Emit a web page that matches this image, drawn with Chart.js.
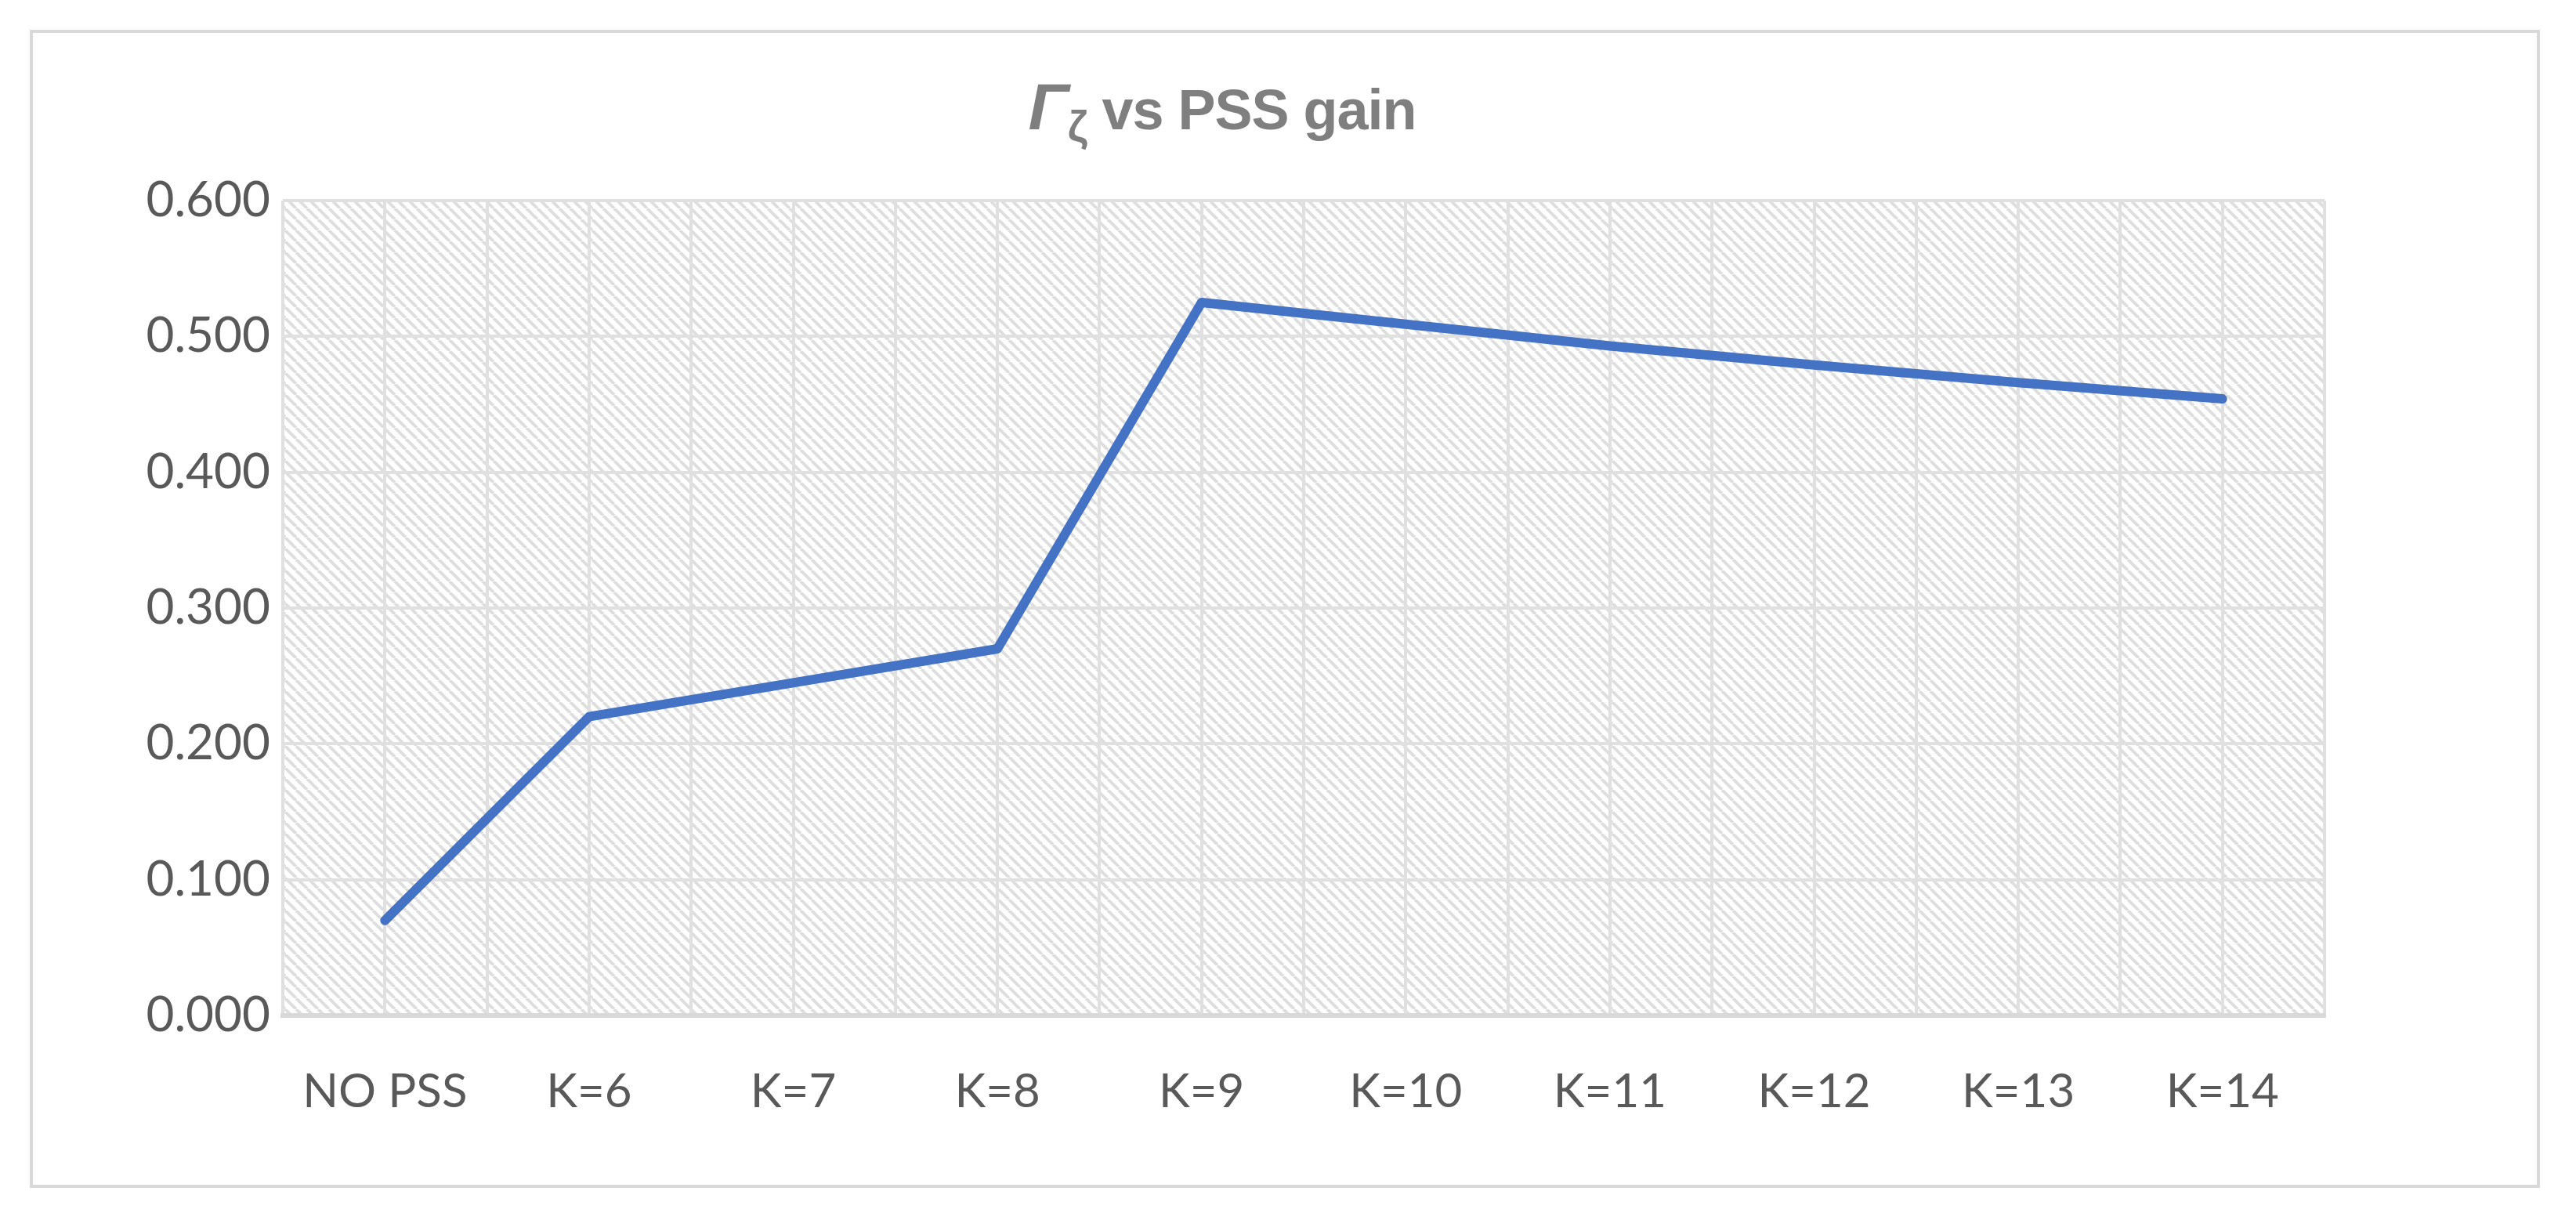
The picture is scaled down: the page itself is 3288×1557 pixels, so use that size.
<!DOCTYPE html>
<html><head><meta charset="utf-8">
<script src="https://cdn.jsdelivr.net/npm/chart.js@4/dist/chart.umd.min.js"></script>
<style>
html,body{margin:0;padding:0;background:#fff;}
#wrap{position:relative;width:3288px;height:1557px;}
#frame{position:absolute;left:38px;top:38px;width:3204px;height:1478px;border:4px solid #d9d9d9;box-sizing:border-box;}
#title{position:absolute;left:-84px;width:3288px;top:88px;text-align:center;font-family:"Liberation Sans",Arial,sans-serif;font-weight:bold;font-size:72px;color:#7f7f7f;letter-spacing:-1px;}
#title i{font-size:84px;}
#title sub{font-size:56px;}
canvas{position:absolute;left:0;top:0;}
</style></head>
<body><div id="wrap"><div id="frame"></div>
<div id="title"><i>Γ</i><sub>ζ</sub> vs PSS gain</div>
<canvas id="c" width="3288" height="1557"></canvas></div>
<script>
const categories = ["NO PSS","K=6","K=7","K=8","K=9","K=10","K=11","K=12","K=13","K=14"];
const values = [0.070,0.220,0.245,0.270,0.525,0.509,0.493,0.479,0.466,0.454];
const yTicks = [0,0.1,0.2,0.3,0.4,0.5,0.6];

const bgPlugin={id:'bg',beforeDraw(ch){
  const a=ch.chartArea,ctx=ch.ctx;
  const p=document.createElement('canvas');p.width=14;p.height=14;
  const g=p.getContext('2d');g.strokeStyle='#dedede';g.lineWidth=4;g.beginPath();
  for(const o of [-14,0,14]){g.moveTo(o,0);g.lineTo(o+14,14);}g.stroke();
  ctx.save();ctx.fillStyle=ctx.createPattern(p,'repeat');
  ctx.fillRect(a.left,a.top,a.right-a.left,a.bottom-a.top);ctx.restore();
}};
new Chart(document.getElementById('c'),{
  type:'line',
  data:{datasets:[{data:values.map((v,i)=>({x:i,y:v})),borderColor:'#4472c4',borderWidth:12,pointRadius:0,borderCapStyle:'round',borderJoinStyle:'round',tension:0}]},
  options:{
    responsive:false,animation:false,devicePixelRatio:1,
    layout:{padding:{left:38,top:256,right:321,bottom:0}},
    plugins:{legend:{display:false},tooltip:{enabled:false}},
    scales:{
      x:{type:'linear',min:-0.5,max:9.5,
        afterBuildTicks(s){const t=[];for(let v=-0.5;v<=9.5001;v+=0.5)t.push({value:Math.round(v*10)/10});s.ticks=t;},
        afterFit(s){s.height=261;},
        grid:{color:'#e0e0e0',lineWidth:4,drawTicks:false},
        border:{color:'#d9d9d9',width:6},
        ticks:{autoSkip:false,maxRotation:0,padding:62,color:'#595959',font:{family:'Lato',size:60},
          callback:v=>Number.isInteger(v)?categories[v]:''}},
      y:{min:0,max:0.6,
        afterBuildTicks(s){s.ticks=yTicks.map(v=>({value:v}));},
        afterFit(s){s.width=323;},
        grid:{color:'#e0e0e0',lineWidth:4,drawTicks:false},
        border:{display:false},
        ticks:{padding:16,color:'#595959',font:{family:'Lato',size:62},callback:v=>v.toFixed(3)}}
    }
  },
  plugins:[bgPlugin]
});
</script></body></html>
